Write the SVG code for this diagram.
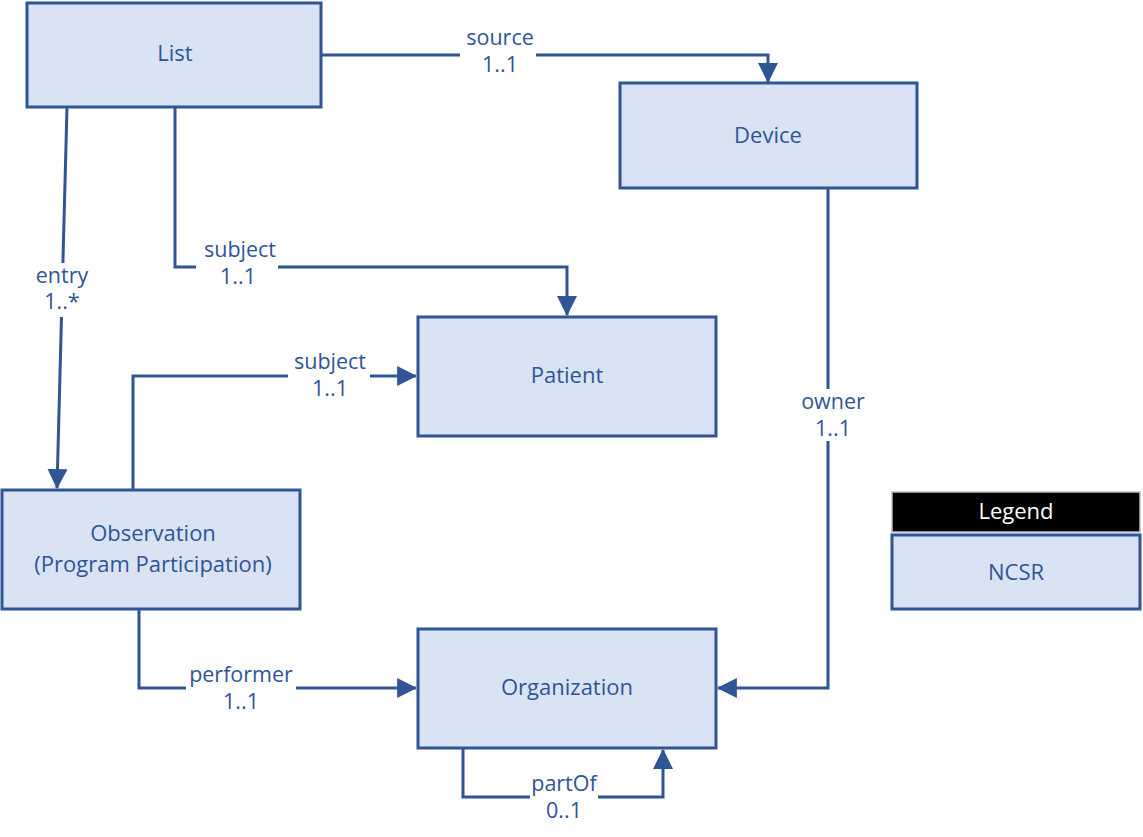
<svg xmlns="http://www.w3.org/2000/svg" width="1143" height="837" viewBox="0 0 1143 837">
<defs>
<style>
.box{fill:#DAE3F3;stroke:#2F5597;stroke-width:3}
.t{font-family:"Open Sans","Liberation Sans",sans-serif;font-size:22px;fill:#2F5597;text-anchor:middle}
.lbl{font-family:"Open Sans","Liberation Sans",sans-serif;font-size:21.5px;fill:#2F5597;text-anchor:middle}
.ln{fill:none;stroke:#2F5597;stroke-width:3}
.bg{fill:#FFFFFF}
</style>
<marker id="arr" markerUnits="userSpaceOnUse" markerWidth="20" markerHeight="20" viewBox="0 0 18 18" refX="17" refY="9" orient="auto">
<path d="M0,0 L18,9 L0,18 Z" fill="#2F5597"/>
</marker>
</defs>
<rect width="1143" height="837" fill="#FFFFFF"/>
<g id="connectors">
<path class="ln" d="M321,55 H768 V82" marker-end="url(#arr)"/>
<path class="ln" d="M67,107 L57,488" marker-end="url(#arr)"/>
<path class="ln" d="M175,107 V267 H567 V315" marker-end="url(#arr)"/>
<path class="ln" d="M133,490 V376 H416" marker-end="url(#arr)"/>
<path class="ln" d="M139,609 V688 H416" marker-end="url(#arr)"/>
<path class="ln" d="M828,188 V688 H718" marker-end="url(#arr)"/>
<path class="ln" d="M463,748 V797 H663 V750" marker-end="url(#arr)"/>
<rect class="bg" x="460" y="26" width="76" height="50"/>
<rect class="bg" x="36" y="263" width="54" height="54"/>
<rect class="bg" x="196" y="238" width="82" height="52"/>
<rect class="bg" x="288" y="350" width="82" height="50"/>
<rect class="bg" x="186" y="663" width="110" height="50"/>
<rect class="bg" x="800" y="389" width="66" height="52"/>
<rect class="bg" x="530" y="772" width="68" height="50"/>
<text class="lbl" x="500" y="45">source</text>
<text class="lbl" x="500" y="72">1..1</text>
<text class="lbl" x="62" y="283">entry</text>
<text class="lbl" x="62" y="309">1..*</text>
<text class="lbl" x="240" y="257">subject</text>
<text class="lbl" x="238" y="284">1..1</text>
<text class="lbl" x="330" y="369">subject</text>
<text class="lbl" x="330" y="396">1..1</text>
<text class="lbl" x="241" y="682">performer</text>
<text class="lbl" x="241" y="709">1..1</text>
<text class="lbl" x="833" y="409">owner</text>
<text class="lbl" x="833" y="436">1..1</text>
<text class="lbl" x="564" y="791">partOf</text>
<text class="lbl" x="564" y="818">0..1</text>
</g>
<g id="list">
<rect class="box" x="27" y="3" width="294" height="104"/>
<text class="t" x="175" y="61">List</text>
</g>
<g id="device">
<rect class="box" x="620" y="83" width="297" height="105"/>
<text class="t" x="768" y="143">Device</text>
</g>
<g id="patient">
<rect class="box" x="418" y="317" width="298" height="119"/>
<text class="t" x="567" y="383">Patient</text>
</g>
<g id="observation">
<rect class="box" x="2" y="490" width="298" height="119"/>
<text class="t" x="153" y="541">Observation</text>
<text class="t" x="153" y="572">(Program Participation)</text>
</g>
<g id="organization">
<rect class="box" x="418" y="629" width="298" height="119"/>
<text class="t" x="567" y="695">Organization</text>
</g>
<g id="legend">
<rect x="892" y="492" width="248" height="40" fill="#000000" stroke="#BFBFBF" stroke-width="1.5"/>
<text class="t" x="1016" y="519" style="fill:#FFFFFF">Legend</text>
<rect class="box" x="892" y="535" width="248" height="74"/>
<text class="t" x="1016" y="580">NCSR</text>
</g>
</svg>
